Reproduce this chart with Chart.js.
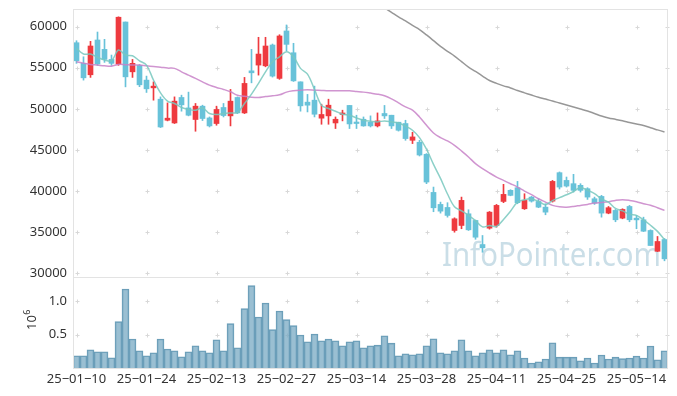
<!DOCTYPE html>
<html><head><meta charset="utf-8">
<script src="https://cdn.jsdelivr.net/npm/chart.js@4/dist/chart.umd.min.js"></script>
<style>
html,body{margin:0;padding:0;background:#fff;}
#wrap{position:relative;width:677px;height:396px;overflow:hidden;}
canvas{position:absolute;left:0;}
</style></head>
<body><div id="wrap">
<canvas id="priceChart" width="677" height="278" style="top:0"></canvas>
<canvas id="volChart" width="677" height="119" style="top:277px"></canvas>
</div>
<script>
const categories = ['25-01-10','25-01-13','25-01-14','25-01-15','25-01-16','25-01-17','25-01-20','25-01-21','25-01-22','25-01-23',
'25-01-24','25-01-31','25-02-03','25-02-04','25-02-05','25-02-06','25-02-07','25-02-10','25-02-11','25-02-12',
'25-02-13','25-02-14','25-02-17','25-02-18','25-02-19','25-02-20','25-02-21','25-02-24','25-02-25','25-02-26',
'25-02-27','25-02-28','25-03-04','25-03-05','25-03-06','25-03-07','25-03-10','25-03-11','25-03-12','25-03-13',
'25-03-14','25-03-17','25-03-18','25-03-19','25-03-20','25-03-21','25-03-24','25-03-25','25-03-26','25-03-27',
'25-03-28','25-03-31','25-04-01','25-04-02','25-04-03','25-04-04','25-04-07','25-04-08','25-04-09','25-04-10',
'25-04-11','25-04-14','25-04-15','25-04-16','25-04-17','25-04-18','25-04-21','25-04-22','25-04-23','25-04-24',
'25-04-25','25-04-28','25-04-29','25-04-30','25-05-02','25-05-07','25-05-08','25-05-09','25-05-12','25-05-13',
'25-05-14','25-05-15','25-05-16','25-05-19','25-05-20'];

const openPrices = [58050,55540,54150,58380,57240,56020,55450,60570,54510,55290,
53500,52560,51180,48620,48290,51390,50120,48710,50330,48900,
48220,50170,49150,51390,49510,54630,55330,55240,57770,53710,
59480,56830,53290,50820,51060,48870,49150,48290,49320,50420,
48380,48740,48380,47930,49440,49230,48380,48220,46180,45940,
44480,39840,38380,38010,35210,35820,37240,36430,33500,35490,
35820,38740,40090,40410,37850,39270,38740,38050,38780,42240,
41300,40900,40700,40290,39070,39350,37320,37650,36710,38130,
36710,36510,35210,32680,34110];
const highPrices = [58290,56340,58220,59350,58460,56550,61200,60570,56020,55400,
53990,53290,51460,50730,51460,51670,52040,50660,50450,49020,
50330,50660,52370,51460,53830,57240,58710,58710,57890,59020,
60210,57980,53290,51760,52770,50570,51180,49020,49840,50420,
49230,49020,49150,49510,50420,49230,48380,48620,47160,46180,
44560,40490,38660,38590,36750,39270,37730,36470,34600,37520,
38380,40820,40170,41180,39680,39350,39070,38460,41300,42330,
41710,42040,40900,40410,39270,39480,38130,37770,37850,38260,
37040,36830,35290,34480,34230];
const lowPrices = [55540,53500,53830,55290,55660,55290,55300,52680,53830,52700,
52000,51060,47730,48540,48220,49720,49150,47280,48580,47800,
48010,49020,47930,49430,49430,53170,54110,55120,53870,53590,
57070,53340,49720,49630,49020,48130,48130,47610,48540,47610,
47610,47890,47800,47800,48830,47610,47300,46180,45780,44270,
40900,37490,37320,36830,35000,35420,35210,34140,32560,35370,
35610,38590,39430,38460,37770,38660,37980,37120,38660,40250,
40490,39880,39880,38990,38380,36830,37240,36270,36630,36270,
35420,35080,33380,32640,31520];
const closePrices = [55850,53780,57650,55450,56020,55540,61150,53900,55540,52930,
52440,52770,47800,48870,50940,50490,49230,50330,48830,47930,
49930,49190,50940,49510,53100,54390,56670,57650,53990,58870,
57850,53410,50370,50450,49350,49320,50450,48740,49480,48170,
48220,47930,47930,48540,49150,47930,47400,46390,46590,44390,
41100,37970,37560,37040,36630,38870,35290,34390,33100,37440,
38260,39600,39480,38590,38870,38780,38050,37440,41180,40490,
40610,40090,40090,39270,38540,37320,37980,36510,37770,36510,
36500,35120,33380,33870,31760];
const ma5 = [57370,56670,56670,56270,55940,55850,57160,56550,56460,55850,
55330,53500,51950,50940,50660,50170,49930,49840,50120,49440,
49320,49440,49510,49560,50660,51790,53100,54510,55730,56340,
56950,56340,54930,54230,52370,50450,50050,49720,49350,49230,
48900,48620,48500,48420,48540,48420,48290,47900,47400,46500,
45100,43250,41550,39650,38100,37600,37050,36400,35650,35800,
35700,36550,37550,38650,38950,39050,38750,38350,38850,39200,
39550,39950,40450,40100,39700,39050,38650,37900,37600,37200,
37050,36500,35850,35100,34100];
const ma20 = [55730,55540,55410,55330,55240,55200,55410,55370,55330,55330,
55240,55160,55080,54960,54930,54510,54110,53710,53290,52890,
52610,52370,52080,51670,51550,51430,51390,51510,51590,51710,
52040,52200,52280,52320,52280,52240,52200,52200,52200,52200,
52120,52040,51920,51790,51590,51220,50730,50240,49840,49020,
48010,47070,46510,46100,45570,44880,44150,43340,42730,42200,
41710,41300,40900,40490,40000,39560,39070,38660,38260,38090,
38050,38130,38260,38380,38540,38620,38710,38870,38950,38870,
38710,38460,38290,37980,37650];
const ma60 = [null,null,null,null,null,null,null,null,null,null,
null,null,null,null,null,null,null,null,null,null,
null,null,null,null,null,null,null,null,null,null,
null,null,null,null,null,null,null,null,null,null,
null,null,null,62850,62300,61750,61200,60700,60150,59650,
59000,58300,57600,57000,56420,55750,55080,54550,54000,53450,
53100,52800,52550,52230,51950,51680,51420,51200,50950,50720,
50480,50240,49990,49740,49440,49130,48900,48730,48550,48350,
48160,47980,47700,47450,47200];
const volumes = [184000,184000,274000,244000,244000,154000,694000,1184000,435000,259000,
184000,229000,435000,285000,259000,169000,244000,334000,259000,229000,
424000,259000,664000,304000,889000,1234000,765000,974000,574000,854000,
724000,634000,495000,394000,510000,409000,435000,409000,334000,394000,
409000,304000,334000,344000,484000,374000,184000,214000,199000,214000,
334000,439000,229000,214000,259000,424000,259000,184000,229000,274000,
229000,274000,199000,259000,150000,75000,94000,135000,379000,164000,
164000,164000,109000,150000,75000,195000,135000,164000,140000,150000,
180000,150000,330000,124000,259000];
const priceTicks = [30000,35000,40000,45000,50000,55000,60000];
const volumeTicks = [500000,1000000];
const xTickLabels = ['25-01-10','25-01-24','25-02-13','25-02-27','25-03-14','25-03-28','25-04-11','25-04-25','25-05-14'];

const UP = '#ee3a3f', DOWN = '#68c2d9';
const candleColors = closePrices.map((c,i)=> c >= openPrices[i] ? UP : DOWN);
const wickData = lowPrices.map((l,i)=>[l, highPrices[i]]);
const bodyData = openPrices.map((o,i)=>[Math.min(o,closePrices[i]), Math.max(o,closePrices[i])]);

Chart.defaults.font.family = "'Noto Sans', sans-serif";
Chart.defaults.font.size = 13;
Chart.defaults.color = '#333';
Chart.defaults.animation = false;

const GRID = '#e3e3e3';
function noPad(s){ s.paddingTop = 0; s.paddingBottom = 0; s.paddingLeft = 0; s.paddingRight = 0; }
function drawCrosses(chart, yValues){
  const {ctx, chartArea, scales} = chart;
  ctx.save();
  ctx.strokeStyle = '#d8d8d8';
  ctx.lineWidth = 1;
  const xs = xTickLabels.map(l => scales.x.getPixelForValue(categories.indexOf(l)));
  xs.push(chartArea.right - 1);
  yValues.forEach(v => {
    const y = Math.round(scales.y.getPixelForValue(v)) + 0.5;
    xs.forEach(x => {
      const xx = Math.round(x) + 0.5;
      ctx.beginPath();
      ctx.moveTo(xx - 2, y); ctx.lineTo(xx + 2, y);
      ctx.moveTo(xx, y - 2); ctx.lineTo(xx, y + 2);
      ctx.stroke();
    });
  });
  ctx.restore();
}
function drawFrame(chart){
  const {ctx, chartArea} = chart;
  ctx.save();
  ctx.strokeStyle = GRID;
  ctx.lineWidth = 1;
  ctx.strokeRect(Math.round(chartArea.left)+0.5, Math.round(chartArea.top)-0.5,
    Math.round(chartArea.right - chartArea.left)-1, Math.round(chartArea.bottom - chartArea.top)+1);
  ctx.restore();
}

const pricePlugin = {
  id: 'pricePlugin',
  beforeDatasetsDraw(chart){
    drawCrosses(chart, priceTicks);
    const {ctx} = chart;
    ctx.save();
    ctx.font = "32px 'Noto Sans', sans-serif";
    ctx.fillStyle = 'rgba(150,190,208,0.5)';
    ctx.textBaseline = 'alphabetic';
    ctx.textAlign = 'left';
    const txt = 'InfoPointer.com';
    const w = ctx.measureText(txt).width;
    const target = 219;
    ctx.translate(442, 266);
    ctx.scale(target / w, 1);
    ctx.fillText(txt, 0, 0);
    ctx.restore();
  },
  afterDraw(chart){ drawFrame(chart); }
};
const volPlugin = {
  id: 'volPlugin',
  beforeDatasetsDraw(chart){ drawCrosses(chart, volumeTicks); },
  afterDraw(chart){
    drawFrame(chart);
    const {ctx} = chart;
    ctx.save();
    ctx.translate(35.5, 53);
    ctx.rotate(-Math.PI/2);
    ctx.fillStyle = '#333';
    ctx.textBaseline = 'alphabetic';
    ctx.textAlign = 'left';
    ctx.font = "13px 'Noto Sans', sans-serif";
    ctx.fillText('10', 0, 0);
    const w = ctx.measureText('10').width;
    ctx.font = "9px 'Noto Sans', sans-serif";
    ctx.fillText('6', w + 0.5, -6);
    ctx.restore();
  }
};

new Chart(document.getElementById('priceChart'), {
  type: 'bar',
  data: {
    labels: categories,
    datasets: [
      {type:'line', label:'MA5', data: ma5, borderColor:'rgba(120,200,190,0.85)', borderWidth:1.5, pointRadius:0, tension:0.35, order:0},
      {type:'line', label:'MA20', data: ma20, borderColor:'rgba(200,130,200,0.85)', borderWidth:1.5, pointRadius:0, tension:0.35, order:0},
      {type:'line', label:'MA60', data: ma60, borderColor:'rgba(140,140,140,0.9)', borderWidth:1.5, pointRadius:0, tension:0.35, order:0},
      {label:'body', data: bodyData, backgroundColor: candleColors, borderWidth:0, barThickness:5, minBarLength:1.5, grouped:false, order:1},
      {label:'wick', data: wickData, backgroundColor: candleColors, borderWidth:0, barThickness:1, grouped:false, order:2}
    ]
  },
  options: {
    responsive:false, animation:false,
    layout:{padding:{top:10, right:9, bottom:1, left:0}},
    plugins:{legend:{display:false}, tooltip:{enabled:false}},
    scales:{
      x:{type:'category', display:false, offset:true, grid:{display:false}, afterFit: noPad},
      y:{min:29550, max:62030,
         afterBuildTicks(s){ s.ticks = priceTicks.map(v=>({value:v})); },
         afterFit(s){ s.width = 73; noPad(s); },
         ticks:{padding:6, color:'#333', font:{size:13}, callback(v){ return String(v); }},
         grid:{display:false, drawTicks:false}, border:{display:false}}
    }
  },
  plugins:[pricePlugin]
});

new Chart(document.getElementById('volChart'), {
  type: 'bar',
  data: {
    labels: categories,
    datasets: [{label:'volume', data: volumes, backgroundColor:'rgba(120,170,195,0.75)', borderColor:'rgba(80,140,170,0.85)', borderWidth:1, barPercentage:1, categoryPercentage:1}]
  },
  options: {
    responsive:false, animation:false,
    layout:{padding:{top:1, right:9, bottom:0, left:0}},
    plugins:{legend:{display:false}, tooltip:{enabled:false}},
    scales:{
      x:{type:'category', offset:true,
         afterFit(s){ s.height = 28; noPad(s); },
         ticks:{autoSkip:false, maxRotation:0, minRotation:0, padding:3, color:'#333', font:{size:13},
           callback(v, i){ const l = categories[i]; return xTickLabels.includes(l) ? l.replace(/-/g,'\u2212') : ''; }},
         grid:{display:false, drawTicks:false}, border:{display:false}},
      y:{min:0, max:1349000,
         afterBuildTicks(s){ s.ticks = volumeTicks.map(v=>({value:v})); },
         afterFit(s){ s.width = 73; noPad(s); },
         ticks:{padding:6, color:'#333', font:{size:13}, callback(v){ return (v/1e6).toFixed(1); }},
         grid:{display:false, drawTicks:false}, border:{display:false}}
    }
  },
  plugins:[volPlugin]
});
</script></body></html>
